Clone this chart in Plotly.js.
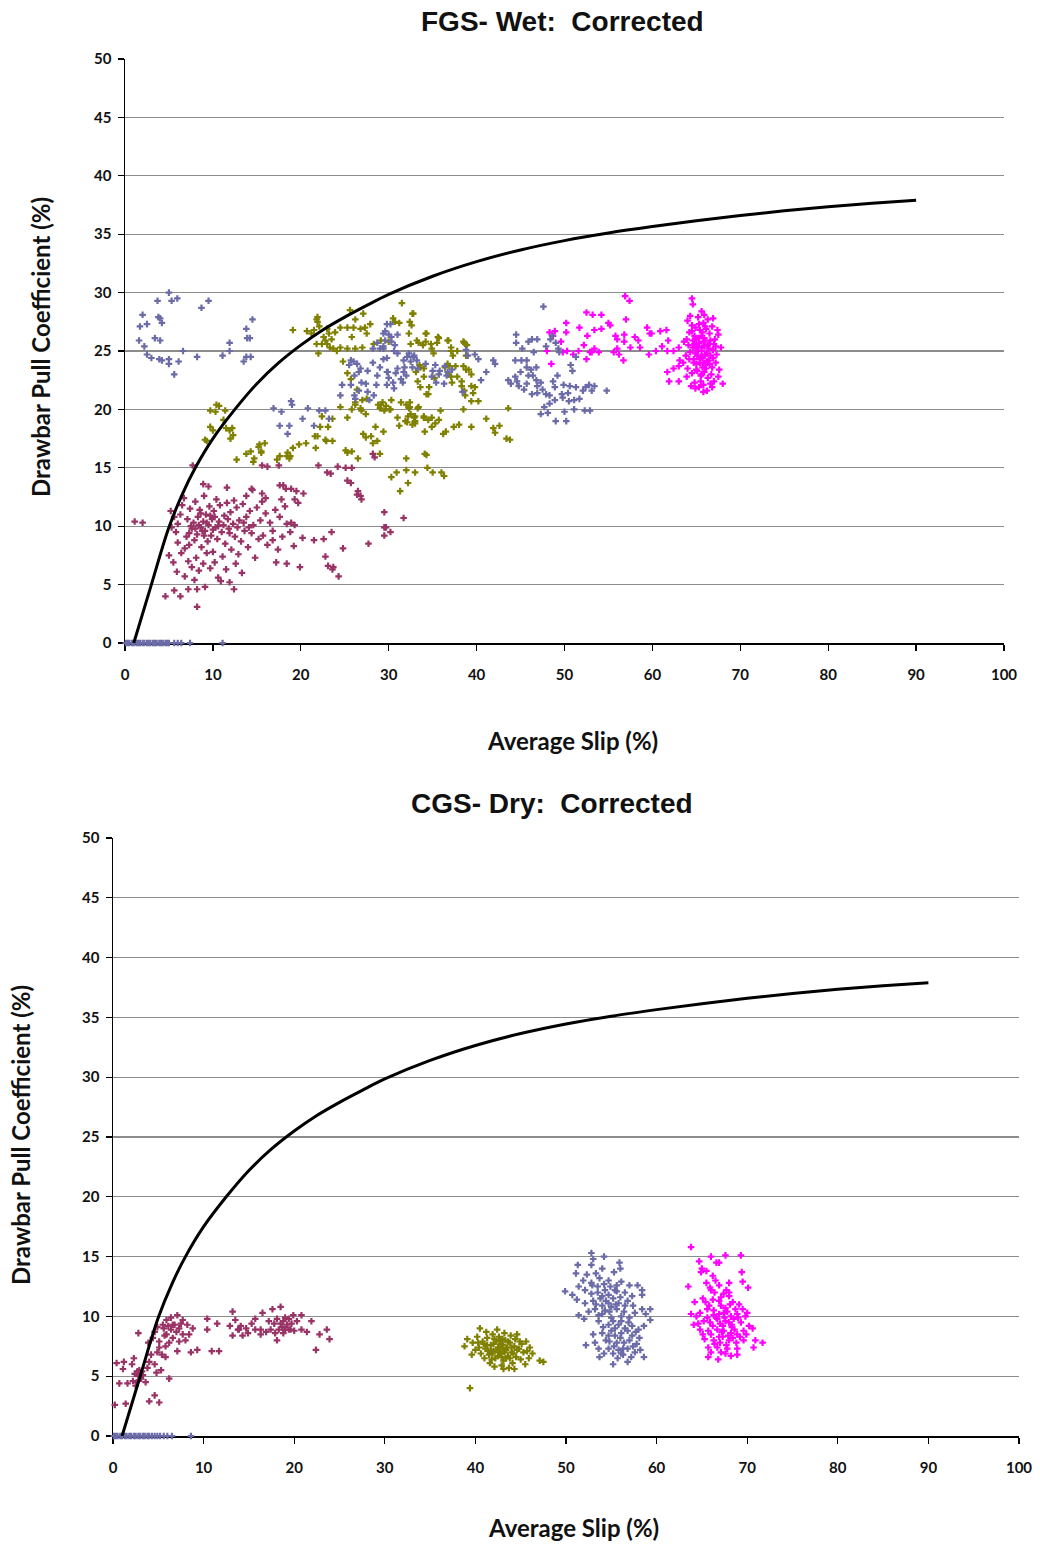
<!DOCTYPE html>
<html>
<head>
<meta charset="utf-8">
<script src="https://cdn.plot.ly/plotly-3.0.1.min.js"></script>
<style>html,body{margin:0;padding:0;background:#fff;}#chart{width:1040px;height:1546px;}</style>
</head>
<body>
<div id="chart"></div>
<script>
// ---------- data (x = Average Slip %, y = Drawbar Pull Coefficient %) ----------
const titles = ["FGS- Wet:  Corrected", "CGS- Dry:  Corrected"];
const xTitle = "Average Slip (%)";
const yTitle = "Drawbar Pull Coefficient (%)";

const curveX = [1, 3, 5, 6.5, 8, 10, 12.5, 15, 17.5, 20, 22.5, 25, 27.5, 30, 35, 40, 45, 50, 55, 60, 65, 70, 75, 80, 85, 90];
const curveY = [0, 5.0, 9.9, 12.7, 15, 17.5, 20, 22.2, 24.0, 25.5, 26.8, 27.9, 28.9, 29.85, 31.4, 32.65, 33.65, 34.45, 35.1, 35.65, 36.15, 36.6, 37.0, 37.35, 37.65, 37.9];

// FGS wet
const fgsBlue = [
 [0.1,0],[0.3,0],[0.5,0],[0.8,0],[1.0,0],[1.3,0],[1.5,0],[1.7,0],[2.0,0],[2.2,0],[2.5,0],[2.7,0],[2.9,0],[3.2,0],[3.4,0],[3.6,0],[3.9,0],[4.1,0],[4.3,0],[4.6,0],[4.8,0],[5.0,0],[5.6,0],[6.0,0],[6.4,0],[7.4,0],[11.1,0],
 [5.0,30.0],[3.7,29.3],[5.3,29.3],[5.95,29.5],[8.7,28.7],[9.5,29.3],[2.0,28.1],[3.8,27.9],[4.0,27.8],[2.5,27.3],[1.7,27.1],[4.2,27.4],[3.4,26.1],[4.0,25.9],[1.6,25.9],[2.2,25.4],[2.5,24.7],[3.0,24.4],[3.9,24.3],[4.2,24.2],[5.0,24.3],[5.0,23.9],[6.1,24.1],[5.6,23.0],[6.6,25.0],[8.2,24.5],[11.1,24.6],[11.9,25.7],[11.9,25.0],[13.5,24.1],[13.8,24.5],[14.3,24.5],[13.8,26.9],[13.9,26.1],[14.2,26.1],[14.5,27.7],
 [16.9,20.1],[17.8,19.8],[18.9,20.7],[19.0,20.4],[20.8,20.1],[20.2,19.2],[17.6,18.6],[18.7,18.6],[18.5,17.9],[21.5,18.6],[22.1,19.9],[23.2,19.2],[22.8,19.9],[24.5,21.2],[24.7,22.1],[25.7,22.1],[26.1,22.9],[26.4,23.9],[26.6,23.2],[26.8,23.5],[26.0,24.1],[26.9,22.3],[26.6,21.6],[26.1,21.2],[26.2,20.9],[27.4,22.2],[27.6,21.5],[27.8,20.8],[28.3,21.2],[28.6,22.1],[28.7,22.9],[27.6,23.3],[28.2,24.0],[29.0,23.6],[29.4,24.3],[29.8,23.2],[30.0,22.7],[29.8,22.1],[30.6,21.8],[31.4,22.6],[31.0,23.5],[31.8,23.6],[32.5,24.1],[32.9,24.6],[32.1,24.5],[33.3,23.5],[34.2,23.9],[35.0,23.3],[35.8,23.3],[36.4,23.7],[36.6,22.9],[37.2,23.4],[39.0,24.6],[40.2,24.3],[29.4,26.5],[29.8,27.3],[30.2,27.3],[29.6,25.9],[30.3,25.8],[30.7,25.5],[31.0,26.4],[28.7,25.7],[28.2,25.2],[29.0,25.2],[31.0,24.8],[29.4,25.2],[25.5,23.8],[25.7,24.2],[29.6,26.7],[30.0,26.4],[30.3,26.2],[29.4,25.4],[29.8,24.4],[30.6,25.0],[31.7,24.2],[32.3,24.8],[32.8,24.5],[33.2,24.2],[32.7,23.6],[31.7,23.2],[30.8,23.1],[29.9,23.2],[30.5,22.3],[31.6,22.3],[32.0,22.9],[35.3,23.8],[35.7,23.0],[36.7,23.2],[34.9,22.8],[35.4,22.3],[36.3,22.2],[38.8,25.1],[39.8,24.7],[40.5,22.5],[38.4,21.5],[41.1,23.2],[42.1,23.9],[41.9,24.2],[43.6,22.5],[43.9,22.2],[44.4,22.8],[44.8,22.0],
 [44.5,26.4],[44.5,25.7],[45.2,25.2],[45.9,25.8],[46.3,26.0],[46.9,26.0],[47.6,28.8],[46.5,24.9],[44.4,24.2],[45.1,24.2],[45.7,24.2],[45.7,23.6],[46.2,23.4],[46.8,23.6],[45.0,23.2],[45.9,22.9],[46.4,22.9],[46.8,22.5],[45.7,22.2],[44.6,22.4],[45.4,21.7],[46.3,21.3],[46.9,21.4],[46.9,22.0],[47.3,22.3],[47.5,21.7],[47.9,21.3],[48.3,21.2],[48.7,22.4],[49.2,22.9],[48.9,21.9],[48.4,26.0],[48.6,26.3],[49.0,25.7],[49.3,25.2],[47.9,25.4],[49.4,24.9],[51.3,24.5],[50.7,23.8],[50.9,23.3],[49.9,22.1],[49.7,21.3],[50.4,21.4],[51.1,20.8],[50.5,20.7],[49.8,21.0],[48.9,20.8],[48.3,20.5],[47.7,20.2],[47.3,19.6],[48.1,19.7],[49.0,19.0],[50.2,19.0],[51.3,21.9],[52.1,21.6],[51.7,20.9],[52.4,21.9],[52.8,22.1],[53.4,22.0],[53.1,21.6],[52.3,19.9],[52.9,19.9],[51.1,20.0],[54.8,21.6],[50.6,22.0],[50.0,19.8]
];
const fgsMaroon = [
 [1.1,10.4],[2.0,10.3],
 [7.7,15.2],[8.9,13.6],[9.5,13.4],[11.6,13.3],[12.4,12.2],[13.8,12.6],[14.5,13.1],[15.6,12.8],[16.0,12.4],[17.8,12.3],
 [5.2,11.3],[5.6,10.8],[5.3,9.9],[5.8,9.5],[6.0,10.2],[6.3,11.0],[6.5,11.8],[6.7,12.4],[7.0,9.1],[7.1,10.6],[7.3,8.4],[7.4,11.5],[7.6,9.8],[7.8,10.3],[7.9,8.8],[8.0,12.1],[8.2,9.3],[8.3,10.8],[8.5,11.4],[8.6,9.9],[8.7,8.2],[8.9,10.4],[9.0,12.6],[9.1,9.6],[9.2,11.0],[9.4,8.7],[9.5,10.1],[9.6,11.7],[9.8,9.2],[9.9,10.6],[10.0,7.8],[10.1,11.3],[10.3,9.9],[10.4,12.3],[10.5,8.9],[10.7,10.4],[10.8,11.8],[11.0,9.5],[11.1,7.4],[11.3,10.9],[11.4,8.5],[11.6,12.0],[11.8,9.8],[12.0,11.2],[12.1,8.0],[12.3,10.2],[12.5,9.1],[12.7,11.6],[12.9,7.6],[13.0,10.5],[13.2,8.7],[13.4,11.9],[13.6,9.6],[13.8,10.8],[14.0,8.2],[14.2,11.3],[14.4,9.4],[14.6,10.1],[14.8,7.3],[15.0,11.6],[15.2,8.9],[15.4,10.5],[15.7,9.2],[16.0,11.1],[16.2,8.4],[16.5,10.3],[16.8,9.6],[17.1,11.4],[17.4,8.0],[17.6,10.8],[17.9,9.1],[18.2,11.7],[18.4,10.2],[18.8,9.5],
 [6.0,8.6],[6.4,7.7],[6.8,8.1],[7.2,7.0],[7.6,6.5],[8.1,7.3],[8.4,6.2],[8.9,6.8],[9.3,7.7],[9.7,6.4],[10.2,6.9],[10.6,5.6],[10.9,5.3],[11.5,6.3],[11.9,5.2],[12.4,4.6],[12.6,6.8],[13.3,6.0],[5.0,7.5],[5.5,6.9],[4.6,4.0],[5.6,4.5],[6.3,4.0],[7.2,4.6],[8.2,3.1],[8.2,4.6],[9.1,4.8],[6.8,5.7],[5.9,6.1],[7.9,5.4],
 [8.0,9.8],[8.8,9.6],[9.3,10.3],[10.0,9.7],[10.6,10.0],[9.7,10.9],[8.4,10.1],[11.2,10.1],[7.5,10.0],[9.0,9.2],[10.2,10.8],[8.6,11.1],[7.3,9.4],[11.7,10.6],[12.8,9.9],[13.5,10.3],[14.1,9.9],[11.9,9.4],
 [17.5,15.2],[20.3,12.8],[19.7,12.0],[18.3,13.2],[18.9,13.2],[18.9,10.3],[19.3,10.1],[22.0,15.2],[23.4,14.5],[24.2,15.1],[25.1,15.0],[25.8,15.0],[25.7,13.7],[26.4,12.7],[26.9,12.3],[29.5,11.2],[31.7,10.7],[29.5,9.2],[29.5,9.9],[29.7,9.9],[30.2,9.5],[27.7,8.5],[24.8,8.1],[23.5,9.5],[22.6,8.9],[21.5,8.8],[20.2,9.0],[22.8,7.4],[23.1,6.6],[23.7,6.5],[23.6,6.3],[24.3,5.7],[19.9,6.5],[18.4,6.8],[19.2,8.3],[19.3,12.3],[16.8,8.8],[17.2,6.9],
 [28.2,16.2],[28.4,15.9],[26.5,13.0],[26.8,12.6],[25.3,13.9],[15.6,15.2],[16.2,15.1],[23.0,14.6],[19.5,13.0],[17.6,13.5],[18.0,13.5],[14.4,13.2],[15.6,12.1]
];
const fgsOlive = [
 [9.7,19.9],[10.7,20.3],[10.3,19.8],[11.4,19.9],[9.7,18.5],[10.0,18.2],[11.2,19.1],[11.5,18.4],[11.9,18.2],[12.2,18.4],[12.3,17.8],[9.1,17.4],[9.3,17.3],[10.4,20.4],[12.0,17.5],
 [12.7,15.7],[13.8,16.2],[14.6,15.5],[15.2,16.8],[15.3,17.0],[15.5,16.3],[17.3,15.7],[18.4,16.0],[18.7,15.8],[19.1,16.7],[20.6,17.1],[21.6,17.7],[22.2,18.5],[22.4,19.4],[23.1,18.5],[22.9,17.3],[23.6,17.3],[25.1,16.5],[25.3,16.3],[26.5,15.8],[27.4,17.6],[28.2,17.1],[25.3,19.3],[24.5,20.2],[23.6,19.2],[25.8,20.0],[26.2,20.4],[27.0,20.8],[26.9,19.9],[27.4,19.6],[28.8,20.4],[29.0,20.1],[29.5,19.9],[30.3,20.8],[31.4,20.6],[32.3,20.1],[32.4,20.6],[32.9,19.3],[32.2,19.4],[31.2,18.6],[32.1,18.9],[32.7,18.7],[34.3,16.1],[32.0,14.8],[33.0,14.6],[30.3,14.2],[32.0,15.8],[31.3,13.0],[32.2,13.7],[30.9,14.6],[34.4,15.0],[36.0,14.6],[34.1,16.2],[35.0,14.6],[36.3,14.3],[29.0,16.2],[29.4,18.1],[28.7,17.3],[28.0,17.7],[27.1,17.9],[25.8,16.4],[19.8,17.0],[21.7,16.7],[18.5,16.3],[18.8,16.0],[17.6,16.0],[15.9,17.1],[15.5,16.4],[14.3,16.4],[14.7,15.8],[22.8,17.4],[21.9,17.7],
 [19.1,26.8],[20.7,26.7],[21.2,26.5],[21.5,26.8],[21.9,27.5],[22.1,27.1],[21.8,27.7],[21.9,27.9],[22.6,26.2],[22.8,25.9],[23.0,25.6],[23.2,26.5],[23.3,25.3],[23.7,25.2],[24.1,25.0],[24.5,25.3],[21.8,25.6],[22.0,24.8],[23.5,26.0],[22.4,25.6],[23.0,26.9],[23.9,26.6],[24.5,27.0],[25.3,27.0],[26.0,27.0],[26.8,26.9],[25.8,26.2],[25.3,25.2],[26.2,25.2],[27.0,25.3],[27.3,27.0],[27.5,26.5],[27.9,27.3],[28.3,25.6],[29.1,25.9],[30.0,25.8],[25.6,28.5],[27.1,28.2],[26.2,27.7],[30.5,27.8],[31.5,29.1],[32.7,28.2],[32.4,27.5],[32.8,28.2],[32.6,27.2],[30.7,27.5],[31.2,27.4],[32.3,26.5],[32.5,25.6],[33.2,25.9],[34.2,26.5],[34.8,25.6],[35.7,26.1],[36.7,25.9],[37.1,25.3],[38.6,25.7],[38.9,25.5],[34.3,26.5],[34.2,25.8],[35.6,26.2],[35.5,25.7],[36.8,25.9],[38.5,25.8],[38.7,25.6],[33.4,25.7],[33.9,25.5],[34.9,25.2],[35.1,24.8],[37.1,25.0],[37.3,24.6],[37.8,25.0],[38.5,23.7],[38.8,23.4],[39.1,23.4],[39.4,23.0],[38.8,24.6],[37.6,23.7],[36.7,23.9],[36.9,23.7],[37.1,22.8],[37.8,22.8],[38.3,22.4],[39.4,22.0],[39.6,21.4],[39.8,21.9],[40.2,20.7],[39.4,20.7],[33.6,23.6],[34.0,22.8],[33.6,21.9],[34.3,21.3],[34.6,21.9],[33.3,22.4],[33.4,20.2],[32.4,20.2],[33.0,19.4],[31.9,19.0],[33.0,19.0],[34.0,19.4],[34.5,19.1],[34.9,19.3],[35.9,19.9],[38.5,20.0],[35.7,19.1],[34.1,18.1],[33.0,18.8],[34.9,18.5],[36.5,18.1],[38.0,18.7],[39.4,18.5],[41.1,19.2],[41.9,18.4],[42.1,18.0],[42.6,18.6],[43.6,20.1],[43.4,17.5],[43.8,17.4],[29.3,20.6],[29.7,20.3],[30.2,20.0],[28.5,18.5],[24.8,24.1],[25.3,23.1],[25.7,22.6],[26.4,21.7],[26.2,20.6],[26.8,20.1],[27.5,20.9],[29.1,20.4],[30.1,20.0],[31.0,19.3],[32.0,20.4],[32.5,19.6],[33.3,20.1],[34.0,19.3],[33.1,23.2],[33.5,23.8],[34.0,23.5],[34.5,21.3],[35.2,22.7],[36.4,23.6],[36.8,23.0],[37.2,22.3],[38.3,22.0],[38.6,21.6],[38.7,21.2],[37.4,18.5],[35.3,18.8],[36.2,17.9]
];
const fgsMagenta = [
 [56.9,29.7],[57.4,29.3],[64.5,29.5],[64.6,29.0],[65.6,28.4],[52.5,28.3],[53.2,28.1],[54.2,28.1],[55.0,27.4],[55.2,27.2],[50.2,27.4],[51.7,27.0],[53.4,26.8],[52.6,26.3],[48.3,26.6],[48.7,26.3],[48.9,26.7],[50.2,26.6],[54.2,26.9],[55.8,26.3],[56.0,26.0],[57.0,27.7],[56.8,26.4],[58.0,26.2],[58.4,25.9],[59.4,27.0],[59.7,26.5],[59.9,26.5],[60.9,26.7],[61.6,26.8],[61.8,25.9],[61.1,25.4],[60.4,25.0],[59.6,24.7],[58.6,25.3],[57.5,25.3],[56.8,25.8],[56.0,25.2],[55.6,24.9],[56.2,24.7],[56.7,24.2],[53.4,25.2],[53.1,24.9],[52.2,25.5],[51.6,25.0],[50.3,25.0],[51.0,24.7],[49.8,24.9],[48.0,25.0],[48.5,23.9],[49.6,25.8],[52.5,24.3],[52.9,24.9],[53.9,24.9],[61.7,25.0],[62.4,25.0],[63.0,25.3],[63.1,24.2],[63.0,23.7],[61.7,23.2],[62.4,23.5],[61.9,22.4],[63.0,22.4],
 [64.0,27.6],[64.5,27.2],[65.2,27.9],[65.8,27.4],[66.3,27.7],[66.8,27.1],[64.2,26.6],[64.8,26.3],[65.4,26.8],[65.9,26.1],[66.5,26.5],[67.1,26.0],[67.5,26.4],[63.6,25.8],[64.1,25.5],[64.6,25.9],[65.0,25.2],[65.3,25.7],[65.6,25.0],[65.9,25.4],[66.2,24.8],[66.5,25.6],[66.9,25.1],[67.3,24.7],[67.8,25.3],[63.8,24.6],[64.3,24.9],[64.7,24.3],[65.1,24.6],[65.4,24.0],[65.7,24.4],[66.0,23.8],[66.4,24.2],[66.8,23.6],[67.2,24.0],[64.0,23.5],[64.5,23.1],[65.0,23.4],[65.5,22.9],[65.9,23.2],[66.3,22.7],[66.7,23.0],[67.0,22.4],[64.8,22.3],[65.3,21.9],[65.8,22.1],[66.2,21.6],[67.5,22.8],[68.0,22.2],[63.5,24.0],[67.6,23.4],[64.4,22.0],[65.6,26.3],[66.1,26.9],[64.9,27.0],[65.5,24.5],[65.2,25.4],[64.9,24.8],[66.6,24.6],[65.7,23.6],[65.0,23.9],[64.6,25.3],[66.0,25.9],[66.4,25.2],[65.3,26.1],[63.9,26.0],[67.0,25.6],[65.8,21.5],[66.9,27.8],[64.3,28.0],
 [65.2,25.0],[65.6,25.3],[66.0,24.7],[65.4,24.3],[65.8,25.8],[66.3,25.5],[65.0,26.0],[65.7,26.6],[66.2,24.1],[64.8,25.6],[65.9,24.0],[66.6,25.9],[65.1,23.3],[65.6,23.0],[66.1,23.5],[64.7,24.0],[66.5,23.9],[66.9,24.4],[65.3,27.3],[66.0,27.1],[64.5,26.7],[67.2,25.4],[65.5,22.4],[66.6,22.2],[64.2,24.3],[67.4,26.8],[64.9,21.8],[66.8,21.9],[63.9,22.8],[65.9,28.1]
];

// CGS dry
const cgsBlue = [
 [0.1,0],[0.3,0],[0.5,0],[0.8,0],[1.0,0],[1.3,0],[1.5,0],[1.8,0],[2.0,0],[2.3,0],[2.5,0],[2.8,0],[3.0,0],[3.3,0],[3.5,0],[3.8,0],[4.0,0],[4.3,0],[4.6,0],[4.9,0],[5.2,0],[5.6,0],[6.0,0],[6.5,0],[8.6,0],
 [52.8,15.3],[54.2,15.0],[51.3,14.3],[52.8,14.3],[54.0,14.0],[56.0,14.0],[55.3,13.7],[51.1,13.6],[52.3,13.5],[53.3,13.6],[53.7,13.2],[54.7,13.0],[56.1,12.9],[49.9,12.1],[51.4,12.5],[52.1,12.2],[52.8,12.8],[53.5,12.0],[54.3,12.2],[55.4,12.2],[56.5,12.0],[57.3,11.7],[58.4,12.2],[58.4,11.8],[51.2,11.4],[52.1,11.1],[53.0,11.3],[54.0,10.9],[54.7,11.1],[55.8,11.1],[56.5,10.9],[57.4,10.9],[58.4,10.6],[59.3,10.6],[58.8,10.2],[51.4,10.1],[52.5,10.4],[53.6,10.1],[54.3,10.5],[55.0,9.9],[56.1,10.0],[57.0,9.9],[53.6,9.6],[54.7,9.3],[55.8,9.3],[56.5,9.0],[57.3,9.2],[58.6,9.2],[59.3,9.7],[53.0,8.5],[54.0,8.6],[55.0,8.8],[56.1,8.6],[57.3,8.4],[58.1,8.2],[53.2,7.8],[54.4,8.0],[55.6,7.8],[56.4,7.8],[57.4,7.5],[52.2,7.6],[53.6,7.3],[54.7,7.3],[55.8,7.2],[56.8,7.3],[58.2,7.2],[54.2,6.9],[55.2,6.9],[56.3,6.8],[57.2,6.6],[58.6,6.6],[55.2,6.0],[53.7,6.6],[56.1,6.9],[55.4,8.4],[54.7,8.4],[55.5,11.0],[55.0,10.8],[54.0,11.7],[54.7,11.8],[55.6,12.1],[53.3,11.0],[52.8,11.9],
 [52.9,12.6],[53.5,12.5],[54.2,12.7],[54.9,12.5],[55.6,12.6],[53.8,11.5],[54.4,11.3],[55.2,11.5],[56.0,11.6],[56.8,11.3],[53.2,10.6],[54.0,10.2],[54.8,10.4],[55.6,10.6],[56.4,10.4],[57.6,10.3],[55.2,9.6],[56.1,9.6],[56.9,9.5],[54.1,9.1],[55.4,9.0],[56.8,8.8],[57.7,8.7],[54.8,7.9],[56.0,8.2],[57.0,8.0],[57.8,7.7],[55.3,7.5],[56.3,7.3],[57.6,7.0],[55.7,6.5],[56.8,6.2],[53.0,14.8],[51.9,13.0],[57.9,12.6],[50.7,11.8],[52.0,9.8],[58.0,8.9],[55.9,14.5],[57.0,12.6]
];
const cgsMaroon = [
 [0.2,2.6],[1.4,2.7],[0.4,6.1],[1.2,6.2],[2.3,6.5],[2.8,8.6],[2.1,6.0],[1.1,5.6],[0.7,4.4],[1.6,4.4],[2.2,4.6],[2.5,4.2],[2.7,5.4],[2.9,5.5],[3.0,5.3],[3.2,5.4],[2.6,4.5],[3.3,5.1],[3.6,4.5],[3.8,5.7],[4.0,6.2],[4.6,6.0],[4.8,5.3],[5.3,5.5],[6.2,4.8],[4.6,3.4],[4.0,2.9],[5.1,2.8],[4.2,6.8],[4.9,7.0],[5.4,6.8],[5.8,6.6],[5.1,7.4],[5.8,7.5],[6.2,7.8],[3.9,7.8],[4.4,8.2],[4.6,8.7],[4.9,9.1],[5.5,9.3],[5.9,9.7],[6.4,9.9],[7.1,10.1],[7.7,9.7],[8.2,9.3],[8.8,9.0],[8.4,8.5],[7.7,8.5],[7.0,8.7],[6.4,8.9],[5.9,8.5],[6.6,8.2],[7.3,7.9],[8.0,8.0],[7.1,7.1],[8.6,7.0],[9.3,7.2],[5.1,7.9],[5.6,9.0],[6.8,9.3],[7.3,9.0],[6.6,9.3],[5.7,8.4],[2.8,5.0],[3.1,4.8],[2.4,5.2],[6.1,9.2],[7.5,9.4],
 [10.4,9.8],[10.4,8.9],[10.9,7.1],[11.7,7.1],[11.5,9.4],[12.9,9.2],[13.2,10.4],[13.5,9.7],[13.2,8.4],[13.9,8.9],[14.3,8.4],[14.7,9.0],[15.3,9.4],[15.7,9.8],[16.5,10.3],[16.3,8.9],[16.9,8.7],[17.4,8.9],[17.6,10.6],[18.5,10.8],[18.1,9.8],[18.5,9.4],[18.8,9.6],[19.0,8.9],[19.4,9.8],[19.9,10.1],[19.7,9.4],[20.3,9.6],[20.8,10.1],[20.8,8.9],[21.4,8.7],[21.9,9.6],[22.8,8.5],[23.6,8.9],[23.9,8.1],[22.4,7.2],[18.1,8.0],[17.9,8.6],[18.8,8.6],[19.4,8.9],[17.2,9.6],[17.8,9.4],[18.3,8.9],[19.0,9.9],[19.2,9.3],[19.6,8.9],[18.7,9.1],[20.0,8.8],[16.3,8.5],[15.7,8.9],[14.9,8.6],[14.1,9.2],[13.8,8.9]
];
const cgsOlive = [
 [40.5,9.0],[39.1,8.1],[38.8,7.5],[39.7,7.8],[40.2,8.3],[44.6,8.5],[44.9,7.9],[45.7,7.1],[47.1,6.3],[44.3,5.6],[43.1,5.6],[40.4,7.4],[39.4,4.0],[47.5,6.2],
 [40.8,7.9],[41.1,7.3],[41.3,8.2],[41.5,6.8],[41.7,7.6],[41.9,8.5],[42.0,7.1],[42.2,6.5],[42.3,7.9],[42.5,7.4],[42.6,8.3],[42.8,6.9],[43.0,7.6],[43.1,6.3],[43.3,8.0],[43.4,7.2],[43.6,6.7],[43.8,7.8],[44.0,7.0],[44.1,6.1],[44.3,7.5],[44.5,6.6],[44.8,7.3],[45.0,6.4],[45.3,7.0],[45.5,6.0],[41.0,6.5],[41.6,6.1],[42.1,5.8],[42.9,5.9],[43.7,5.7],[40.6,6.9],[40.0,7.2],[39.6,6.8],[41.2,8.7],[42.4,8.9],[43.2,8.6],[43.9,8.4],[44.4,8.1],[42.7,7.0],[43.5,7.4],[42.0,7.7],[41.4,7.1],[42.9,6.6],[44.2,6.9],[45.1,7.7],[45.9,6.5],[46.3,6.9],[41.8,6.4],[43.0,8.1],[42.6,7.3],[43.8,6.5],[40.9,7.7],[45.6,7.9],[46.0,7.4],
 [42.3,7.2],[42.8,7.7],[43.2,7.0],[41.7,7.2],[42.5,6.7],[43.6,7.9],[41.3,7.6],[44.0,7.4],[42.1,8.1],[43.4,6.5],[40.3,7.8],[44.6,7.2],[41.9,6.9],[43.0,7.3],[42.7,8.0]
];
const cgsMagenta = [
 [63.8,15.8],[67.6,15.1],[69.3,15.1],[66.0,15.0],[64.7,14.6],[66.6,14.5],[66.9,14.5],[65.5,13.8],[64.9,13.7],[69.4,13.7],[66.2,13.4],[63.5,12.5],[65.5,12.8],[65.9,12.4],[66.9,12.6],[68.0,12.8],[69.5,12.9],[70.1,12.4],[66.0,12.2],[67.7,12.2],[68.0,11.7],[65.1,11.5],[66.2,11.4],[66.9,11.3],[68.4,11.2],[69.1,11.0],[69.5,10.6],[63.8,10.2],[64.8,10.3],[65.6,10.6],[66.3,10.5],[67.1,10.9],[67.4,10.3],[68.2,10.0],[68.9,10.2],[69.8,10.0],[65.2,9.6],[65.9,9.5],[66.7,9.8],[67.6,9.6],[68.3,9.3],[69.3,9.5],[70.2,9.2],[70.6,9.0],[64.8,8.9],[65.7,8.8],[66.7,8.9],[67.4,8.8],[68.2,8.6],[68.9,8.5],[69.6,8.8],[65.3,8.1],[66.3,8.0],[67.3,8.3],[68.0,8.0],[68.8,7.8],[69.6,8.0],[70.7,7.4],[71.7,7.8],[65.7,7.4],[66.7,7.4],[67.8,7.3],[68.9,7.3],[66.0,7.0],[67.1,7.0],[68.2,6.7],[66.8,6.4],[65.7,6.6],[68.9,6.8],[64.4,10.0],[64.1,9.3],[67.3,9.2],[68.3,9.1],[66.3,10.1],[66.9,10.2],[67.6,10.7],[67.1,11.6],[66.4,12.0],[68.0,12.0],[65.4,11.2],
 [66.6,9.9],[67.0,9.4],[67.5,9.9],[68.0,9.5],[67.2,8.7],[66.9,8.3],[67.9,8.4],[68.6,8.9],[66.2,9.2],[65.6,9.9],[67.8,10.4],[68.5,9.8],[69.0,9.9],[68.7,10.6],[66.0,8.5],[67.0,7.8],[67.7,7.6],[68.4,8.2],[69.2,8.3],[69.9,8.5],[66.4,7.7],[65.1,8.5],[64.6,9.4],[70.0,10.3],[68.1,11.0],[65.8,10.9],[67.4,11.9],[66.5,13.0],[65.0,14.0],[70.9,8.0],[64.2,11.2],[67.6,6.9]
];

// ---------- rendering ----------
const COLORS = {blue: '#6B6BA8', maroon: '#993366', olive: '#808000', magenta: '#FF00FF'};
function pts(arr, color, xa, ya) {
  return {type: 'scatter', mode: 'markers', x: arr.map(p => p[0]), y: arr.map(p => p[1]),
    xaxis: xa, yaxis: ya, cliponaxis: false, showlegend: false, hoverinfo: 'skip',
    marker: {symbol: 'cross', size: 5.5, color: color, line: {width: 0}}};
}
function curve(xa, ya) {
  return {type: 'scatter', mode: 'lines', x: curveX, y: curveY, xaxis: xa, yaxis: ya,
    line: {color: '#000', width: 3, shape: 'spline', smoothing: 1}, showlegend: false, hoverinfo: 'skip'};
}
const traces = [
  pts(fgsMaroon, COLORS.maroon, 'x', 'y'), pts(fgsOlive, COLORS.olive, 'x', 'y'),
  pts(fgsMagenta, COLORS.magenta, 'x', 'y'), pts(fgsBlue, COLORS.blue, 'x', 'y'), curve('x', 'y'),
  pts(cgsMaroon, COLORS.maroon, 'x2', 'y2'), pts(cgsOlive, COLORS.olive, 'x2', 'y2'),
  pts(cgsMagenta, COLORS.magenta, 'x2', 'y2'), pts(cgsBlue, COLORS.blue, 'x2', 'y2'), curve('x2', 'y2')
];

const W = 1040, H = 1546;
const tickFont = {family: 'Lato, "Open Sans", sans-serif', size: 15, color: '#111', weight: 'bold'};
function xAxis(l, r, anchor) {
  return {domain: [l / W, r / W], range: [0, 100], dtick: 10, tick0: 0, anchor: anchor,
    showgrid: false, zeroline: false, showline: true, linecolor: '#000', linewidth: 1.5,
    ticks: 'outside', ticklen: 6, tickcolor: '#000', tickwidth: 1.2, tickfont: tickFont,
    ticklabelstandoff: 11, layer: 'below traces', fixedrange: true};
}
function yAxis(top, bottom, anchor) {
  return {domain: [1 - bottom / H, 1 - top / H], range: [0, 50], dtick: 5, tick0: 0, anchor: anchor,
    showgrid: true, gridcolor: '#8c8c8c', gridwidth: 1.3, zeroline: false, showline: true,
    linecolor: '#000', linewidth: 1.5, ticks: 'outside', ticklen: 6, tickcolor: '#000', tickwidth: 1.2,
    tickfont: tickFont, ticklabelstandoff: 3, layer: 'below traces', fixedrange: true};
}
const titleFont = {family: '"Liberation Sans", Arial, sans-serif', size: 28, color: '#111', weight: 'bold'};
const axTitleFont = {family: 'Lato, "Open Sans", sans-serif', size: 24, color: '#111', weight: 'bold'};
function ann(text, px, py, font, angle) {
  return {text: text, xref: 'paper', yref: 'paper', x: px / W, y: 1 - py / H, xanchor: 'center',
    yanchor: 'middle', showarrow: false, font: font, textangle: angle || 0};
}
const layout = {
  width: W, height: H, margin: {l: 0, r: 0, t: 0, b: 0}, paper_bgcolor: '#fff', plot_bgcolor: '#fff',
  xaxis: xAxis(125, 1004, 'y'), yaxis: yAxis(59, 643, 'x'),
  xaxis2: xAxis(113, 1019, 'y2'), yaxis2: yAxis(838, 1436, 'x2'),
  annotations: [
    ann(titles[0], 562, 22, titleFont), ann(titles[1], 552, 803, titleFont),
    ann(xTitle, 572, 741, axTitleFont), ann(xTitle, 573, 1527, axTitleFont),
    ann(yTitle, 40, 347, axTitleFont, -90), ann(yTitle, 20, 1135, axTitleFont, -90)
  ]
};
Plotly.newPlot('chart', traces, layout, {staticPlot: true, displayModeBar: false});
</script>
</body>
</html>
